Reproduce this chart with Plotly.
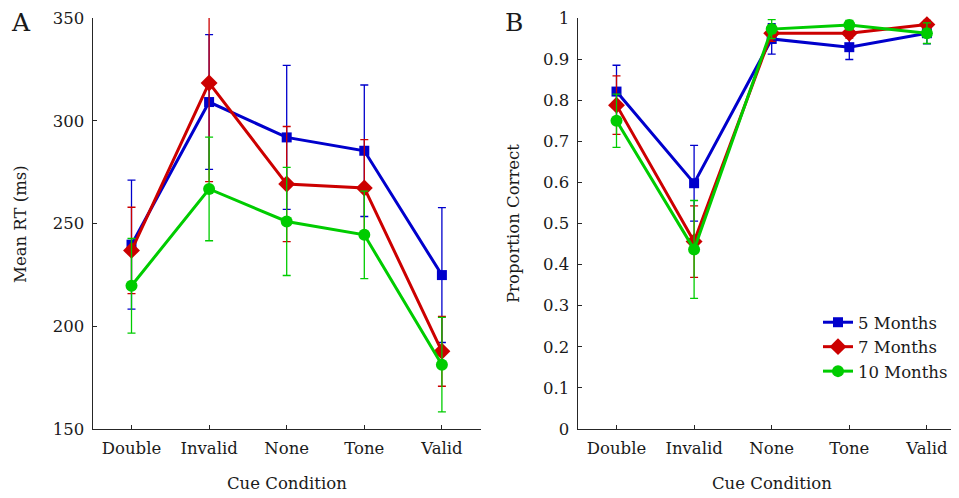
import plotly.graph_objects as go

# ---- data ----
categories = ["Double", "Invalid", "None", "Tone", "Valid"]
series_names = ["5 Months", "7 Months", "10 Months"]

rt_5m = [239.7, 309.1, 291.9, 285.4, 224.9]
rt_7m = [236.9, 318.4, 269.2, 267.3, 187.8]
rt_10m = [219.7, 266.8, 251.0, 244.5, 181.3]
rt_err_5m = [31.4, 32.8, 35.0, 32.0, 32.8]
rt_err_7m = [21.0, 48.0, 28.0, 23.5, 17.0]
rt_err_10m = [23.0, 25.2, 26.3, 21.3, 23.0]

pc_5m = [0.821, 0.598, 0.949, 0.929, 0.963]
pc_7m = [0.788, 0.456, 0.963, 0.963, 0.984]
pc_10m = [0.750, 0.437, 0.973, 0.983, 0.963]
pc_err_5m = [0.064, 0.092, 0.037, 0.030, 0.026]
pc_err_7m = [0.071, 0.087, 0.020, 0.012, 0.010]
pc_err_10m = [0.065, 0.119, 0.023, 0.011, 0.025]

rt_ticks = [150, 200, 250, 300, 350]
pc_ticks = [0, 0.1, 0.2, 0.3, 0.4, 0.5, 0.6, 0.7, 0.8, 0.9, 1]

# ---- style ----
OFF = 8                      # page body margin in the browser
W, H = 959 - OFF, 498 - OFF
ML, MR, MT, MB = 0, 0, 18 - OFF, H - (429 - OFF)
PW, PH = W - ML - MR, H - MT - MB
FONT = "DejaVu Serif"
FS = 16.5
AXC = "#262626"
colors = ["#0000CC", "#CC0000", "#00CC00"]
symbols = ["square", "diamond", "circle"]
msizes = [10, 13, 12]

def px_x(px):
    return (px - OFF - ML) / PW

def px_y(py):
    return (H - MB - (py - OFF)) / PH

fig = go.Figure()

rt_vals = [rt_5m, rt_7m, rt_10m]
rt_errs = [rt_err_5m, rt_err_7m, rt_err_10m]
pc_vals = [pc_5m, pc_7m, pc_10m]
pc_errs = [pc_err_5m, pc_err_7m, pc_err_10m]

for i, name in enumerate(series_names):
    fig.add_trace(go.Scatter(
        x=categories, y=rt_vals[i], name=name, mode="lines+markers",
        line=dict(color=colors[i], width=3),
        marker=dict(symbol=symbols[i], size=msizes[i], color=colors[i]),
        error_y=dict(type="data", array=rt_errs[i], visible=True,
                     color=colors[i], thickness=1.3, width=4),
        xaxis="x", yaxis="y", showlegend=False, cliponaxis=False))
for i, name in enumerate(series_names):
    fig.add_trace(go.Scatter(
        x=categories, y=pc_vals[i], name=name, mode="lines+markers",
        line=dict(color=colors[i], width=3),
        marker=dict(symbol=symbols[i], size=msizes[i], color=colors[i]),
        error_y=dict(type="data", array=pc_errs[i], visible=True,
                     color=colors[i], thickness=1.3, width=4),
        xaxis="x2", yaxis="y2", showlegend=True, cliponaxis=False))

axis_common = dict(showline=True, linecolor=AXC, linewidth=1.2, ticks="inside",
                   ticklen=4, tickcolor=AXC, showgrid=False, zeroline=False,
                   tickfont=dict(family=FONT, size=FS, color="#1a1a1a"),
                   mirror=False)

x1_dom = [px_x(92.7), px_x(480.7)]
x2_dom = [px_x(577.7), 1.0]
x2_right = -0.5 + (959 - 577.7) / 77.6

fig.update_layout(
    width=W, height=H,
    margin=dict(l=ML, r=MR, t=MT, b=MB),
    paper_bgcolor="white", plot_bgcolor="white",
    font=dict(family=FONT, size=FS, color="#1a1a1a"),
    xaxis=dict(domain=x1_dom, type="category", range=[-0.5, 4.5],
               categoryorder="array", categoryarray=categories,
               ticklabelstandoff=4, **axis_common),
    yaxis=dict(domain=[0, 1], range=[150, 350], tickvals=rt_ticks,
               ticklabelstandoff=4, anchor="x", **axis_common),
    xaxis2=dict(domain=x2_dom, type="category", range=[-0.5, x2_right],
                categoryorder="array", categoryarray=categories,
                anchor="y2", ticklabelstandoff=4, **axis_common),
    yaxis2=dict(domain=[0, 1], range=[0, 1], tickvals=pc_ticks,
                anchor="x2", ticklabelstandoff=4, **axis_common),
    legend=dict(x=px_x(818), y=px_y(305), xanchor="left", yanchor="top",
                bgcolor="rgba(0,0,0,0)", borderwidth=0,
                font=dict(family=FONT, size=FS, color="#1a1a1a"),
                tracegroupgap=0, itemwidth=30),
    showlegend=True,
)

ann = [
    dict(text="Mean RT (ms)", x=px_x(20), y=px_y(224), textangle=-90),
    dict(text="Proportion Correct", x=px_x(513), y=px_y(224), textangle=-90),
    dict(text="Cue Condition", x=px_x(287), y=px_y(483)),
    dict(text="Cue Condition", x=px_x(772), y=px_y(483)),
]
for a in ann:
    fig.add_annotation(xref="paper", yref="paper", showarrow=False,
                       xanchor="center", yanchor="middle",
                       font=dict(family=FONT, size=FS, color="#1a1a1a"), **a)
for t, x in [("A", 21), ("B", 514)]:
    fig.add_annotation(xref="paper", yref="paper", showarrow=False, text=t,
                       x=px_x(x), y=px_y(23), xanchor="center", yanchor="middle",
                       font=dict(family=FONT, size=25, color="#1a1a1a"))

fig.write_html("out.html")
